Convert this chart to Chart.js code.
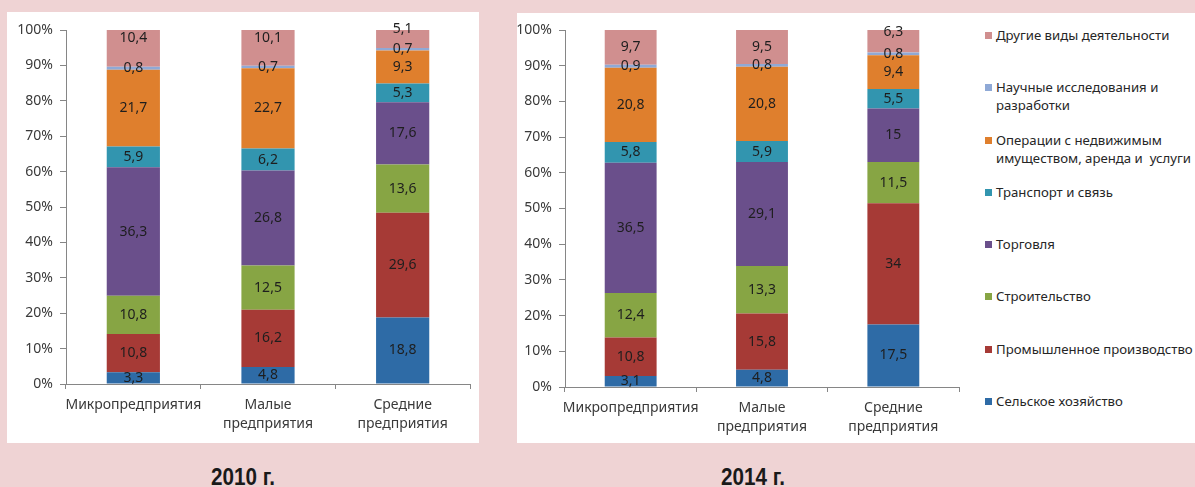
<!DOCTYPE html>
<html lang="ru">
<head>
<meta charset="utf-8">
<script src="https://cdn.jsdelivr.net/npm/chart.js@4.4.1/dist/chart.umd.min.js"></script>
<style>
  html,body{margin:0;padding:0;}
  body{width:1195px;height:487px;background:#efd3d4;position:relative;overflow:hidden;font-family:'Noto Sans',sans-serif;}
  .panel{position:absolute;background:#fff;}
  .wrap{position:absolute;left:0;top:0;}
  .year{position:absolute;top:463px;font-family:'Liberation Sans',sans-serif;font-weight:bold;font-size:24px;color:#1a1a1a;transform:translateX(-50%) scaleX(0.86);white-space:nowrap;}
  #legend{position:absolute;left:468px;top:13px;}
  .lg-item{height:52.3px;position:relative;}
  .lg-item i{position:absolute;left:0;top:6px;width:7px;height:7px;}
  .lg-item span{position:absolute;left:11px;top:0;font-size:13.2px;line-height:18px;color:#262626;white-space:pre;}
</style>
</head>
<body>
<div class="panel" style="left:7px;top:12px;width:472px;height:431px;">
  <div class="wrap" style="width:472px;height:431px;"><canvas id="c2010"></canvas></div>
</div>
<div class="panel" style="left:517px;top:13px;width:678px;height:430px;">
  <div class="wrap" style="width:460px;height:430px;"><canvas id="c2014"></canvas></div>
  <div id="legend"></div>
</div>
<div class="year" style="left:243px;">2010 г.</div>
<div class="year" style="left:753px;">2014 г.</div>

<script>
const categories = [['Микропредприятия'], ['Малые', 'предприятия'], ['Средние', 'предприятия']];
const seriesNames = [
  'Сельское хозяйство',
  'Промышленное производство',
  'Строительство',
  'Торговля',
  'Транспорт и связь',
  'Операции с недвижимым\nимуществом, аренда и  услуги',
  'Научные исследования и\nразработки',
  'Другие виды деятельности'
];
const seriesColors = ['#2e6ba6','#a63a36','#87a544','#6a4f8b','#3295af','#df7f2d','#8fa9d6','#d08f8f'];

// 2010, values per series (Микро, Малые, Средние)
const agri2010      = [3.3, 4.8, 18.8];
const industry2010  = [10.8, 16.2, 29.6];
const build2010     = [10.8, 12.5, 13.6];
const trade2010     = [36.3, 26.8, 17.6];
const transport2010 = [5.9, 6.2, 5.3];
const realty2010    = [21.7, 22.7, 9.3];
const science2010   = [0.8, 0.7, 0.7];
const other2010     = [10.4, 10.1, 5.1];

// 2014
const agri2014      = [3.1, 4.8, 17.5];
const industry2014  = [10.8, 15.8, 34];
const build2014     = [12.4, 13.3, 11.5];
const trade2014     = [36.5, 29.1, 15];
const transport2014 = [5.8, 5.9, 5.5];
const realty2014    = [20.8, 20.8, 9.4];
const science2014   = [0.9, 0.8, 0.8];
const other2014     = [9.7, 9.5, 6.3];

const yTicks = [0,10,20,30,40,50,60,70,80,90,100];

const FONT = "'Noto Sans', sans-serif";
const AXIS = '#868686';

// value labels centred in each segment; top segment nudged like in the original
const valueLabels = {
  id: 'valueLabels',
  afterDatasetsDraw(chart, args, opts) {
    const ctx = chart.ctx;
    ctx.save();
    ctx.font = `14px ${FONT}`;
    ctx.fillStyle = '#1e1e1e';
    ctx.textAlign = 'center';
    ctx.textBaseline = 'middle';
    const last = chart.data.datasets.length - 1;
    chart.data.datasets.forEach((ds, di) => {
      chart.getDatasetMeta(di).data.forEach((el, i) => {
        let y = (el.y + el.base) / 2;
        if (di === last) y += (opts.topShift || [])[i] || 0;
        ctx.fillText(String(ds.data[i]).replace('.', ','), el.x, y);
      });
    });
    ctx.restore();
  }
};

function makeChart(id, series, yW, rightPad, topPad, xH, topShift) {
  return new Chart(document.getElementById(id), {
    type: 'bar',
    data: {
      labels: categories,
      datasets: series.map((d, k) => ({
        label: seriesNames[k].replace('\n', ' '), data: d, backgroundColor: seriesColors[k],
        borderWidth: 0, categoryPercentage: 1, barPercentage: 0.395
      }))
    },
    options: {
      responsive: true, maintainAspectRatio: false, animation: false,
      layout: { padding: { left: 0, right: rightPad, top: topPad, bottom: 0 } },
      plugins: { legend: { display: false }, tooltip: { enabled: false }, valueLabels: { topShift } },
      scales: {
        x: {
          stacked: true,
          grid: { offset: true, drawOnChartArea: false, color: AXIS, tickLength: 5 },
          border: { color: AXIS },
          ticks: { color: '#3a3a3a', font: { family: FONT, size: 14, lineHeight: 1.36 }, padding: 6, maxRotation: 0, autoSkip: false },
          afterFit: s => { s.height = xH; }
        },
        y: {
          stacked: true, min: 0, max: 100,
          afterBuildTicks: s => { s.ticks = yTicks.map(v => ({ value: v })); },
          grid: { drawOnChartArea: false, color: AXIS, tickLength: 6 },
          border: { color: AXIS },
          ticks: { color: '#3a3a3a', font: { family: FONT, size: 14 }, padding: 7, callback: v => v + '%' },
          afterFit: s => { s.width = yW; }
        }
      }
    },
    plugins: [valueLabels]
  });
}

makeChart('c2010',
  [agri2010, industry2010, build2010, trade2010, transport2010, realty2010, science2010, other2010],
  59, 9, 18, 59, [-10, -10, -10]);
makeChart('c2014',
  [agri2014, industry2014, build2014, trade2014, transport2014, realty2014, science2014, other2014],
  48, 18, 17, 56, [0, 0, -9]);

// legend, top item = last series
const lg = document.getElementById('legend');
seriesNames.slice().reverse().forEach((name, r) => {
  const k = seriesNames.length - 1 - r;
  const item = document.createElement('div');
  item.className = 'lg-item';
  const sq = document.createElement('i');
  sq.style.background = seriesColors[k];
  const tx = document.createElement('span');
  tx.textContent = name;
  item.appendChild(sq); item.appendChild(tx);
  lg.appendChild(item);
});
</script>
</body>
</html>
